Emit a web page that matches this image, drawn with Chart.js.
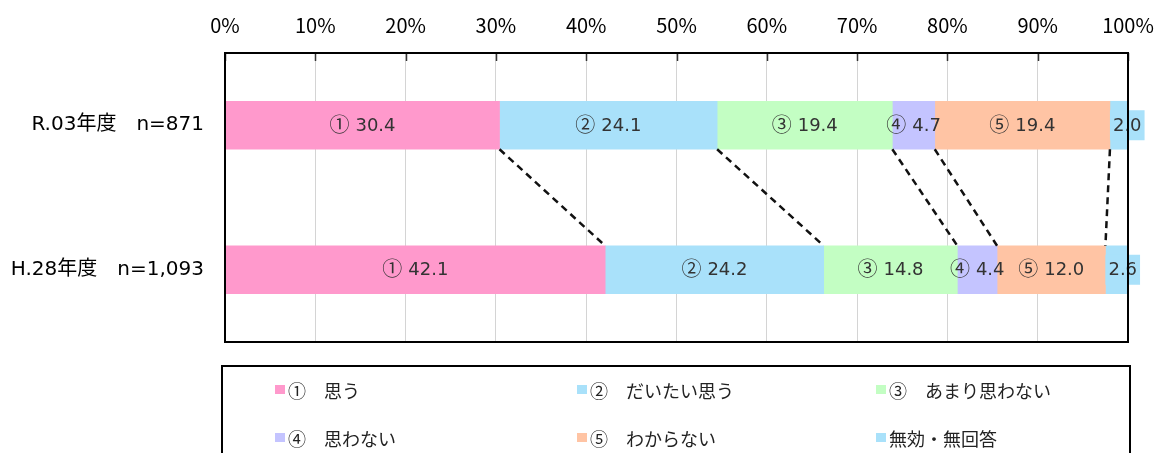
<!DOCTYPE html>
<html lang="ja">
  <head>
    <meta charset="UTF-8" />
    <title>意識調査 比較</title>
    <script src="https://cdn.jsdelivr.net/npm/chart.js@4.4.0/dist/chart.umd.min.js"></script>
    <style>
      body { margin: 0; background: #fff; }
    </style>
  </head>
  <body>
    <canvas id="chart" width="1155" height="453"></canvas>
    <script>
      // rows (top to bottom)
      const categories = ['R.03年度　n=871', 'H.28年度　n=1,093']
      // answer series, values in %
      const seriesNames = ['①　思う', '②　だいたい思う', '③　あまり思わない', '④　思わない', '⑤　わからない', '無効・無回答']
      const seriesMarks = ['①', '②', '③', '④', '⑤', '']
      const omou = [30.4, 42.1]
      const daitai = [24.1, 24.2]
      const amari = [19.4, 14.8]
      const omowanai = [4.7, 4.4]
      const wakaranai = [19.4, 12.0]
      const muko = [2.0, 2.6]
      const colors = ['#ff99cc', '#a9e1fa', '#c3fec3', '#c4c4ff', '#ffc4a4', '#a9e1fa']

      const CJK = '"Noto Sans CJK JP", "Noto Sans", sans-serif'
      const MIX = '"DejaVu Sans", "Noto Sans CJK JP", sans-serif'
      const allSeries = [omou, daitai, amari, omowanai, wakaranai, muko]

      const datasets = allSeries.map((vals, i) => ({
        label: seriesNames[i],
        data: vals,
        backgroundColor: colors[i],
        borderWidth: 0,
        barThickness: 48,
      }))

      // value labels inside segments, the last one in a little box
      const valueLabels = {
        id: 'valueLabels',
        afterDatasetsDraw(chart) {
          const ctx = chart.ctx
          const markFont = '20px ' + CJK
          const numFont = '18px ' + MIX
          ctx.save()
          ctx.textBaseline = 'middle'
          ctx.textAlign = 'left'
          chart.data.datasets.forEach((ds, di) => {
            const meta = chart.getDatasetMeta(di)
            meta.data.forEach((bar, j) => {
              const v = ds.data[j].toFixed(1)
              const last = di === chart.data.datasets.length - 1
              ctx.font = numFont
              const nw = ctx.measureText(v).width
              if (last) {
                const w = nw + 6
                ctx.fillStyle = colors[di]
                ctx.fillRect(bar.base, bar.y - 15, w, 30)
                ctx.fillStyle = '#333'
                ctx.fillText(v, bar.base + 3, bar.y + 1)
              } else {
                ctx.font = markFont
                const mw = ctx.measureText(seriesMarks[di]).width
                const gap = 6
                const start = (bar.x + bar.base) / 2 - (mw + gap + nw) / 2
                ctx.fillStyle = '#333'
                ctx.fillText(seriesMarks[di], start, bar.y - 1)
                ctx.font = numFont
                ctx.fillText(v, start + mw + gap, bar.y + 1)
              }
            })
          })
          ctx.restore()
        },
      }

      // dashed connectors between the two bars, frame, tick marks, legend box
      const extras = {
        id: 'extras',
        beforeDatasetsDraw(chart) {
          const ctx = chart.ctx
          const a = chart.chartArea
          const x = chart.scales.x
          ctx.save()
          ctx.strokeStyle = '#333'
          ctx.lineWidth = 1.5
          x.ticks.forEach((t) => {
            const px = Math.round(x.getPixelForValue(t.value)) + 0.5
            ctx.beginPath()
            ctx.moveTo(px, a.top)
            ctx.lineTo(px, a.top + 8)
            ctx.stroke()
          })
          ctx.restore()
        },
        afterDraw(chart) {
          const ctx = chart.ctx
          const a = chart.chartArea
          ctx.save()
          // connectors
          ctx.strokeStyle = '#111'
          ctx.lineWidth = 2.5
          ctx.setLineDash([7, 5])
          for (let di = 0; di < chart.data.datasets.length - 1; di++) {
            const bars = chart.getDatasetMeta(di).data
            const top = bars[0]
            const bot = bars[1]
            ctx.beginPath()
            ctx.moveTo(top.x, top.y + top.height / 2)
            ctx.lineTo(bot.x, bot.y - bot.height / 2)
            ctx.stroke()
          }
          ctx.setLineDash([])
          // plot frame
          ctx.strokeStyle = '#000'
          ctx.lineWidth = 2
          ctx.strokeRect(a.left, a.top, a.right - a.left, a.bottom - a.top)
          // legend
          const lx = a.left - 3
          const ly = a.bottom + 24
          ctx.strokeRect(lx, ly, a.right - a.left + 5, 120)
          const colX = [lx + 53, lx + 355, lx + 654]
          const rowY = [ly + 24, ly + 72]
          ctx.font = '18px ' + CJK
          ctx.textBaseline = 'middle'
          ctx.textAlign = 'left'
          chart.data.datasets.forEach((ds, i) => {
            const cx = colX[i % 3]
            const cy = rowY[Math.floor(i / 3)]
            ctx.fillStyle = colors[i]
            ctx.fillRect(cx, cy - 5, 10, 9)
            ctx.fillStyle = '#222'
            ctx.fillText(ds.label, cx + 13, cy + 1)
          })
          ctx.restore()
        },
      }

      const config = {
        type: 'bar',
        data: { labels: categories, datasets: datasets },
        options: {
          indexAxis: 'y',
          responsive: false,
          animation: false,
          layout: { padding: { left: 0, top: 0, right: 27, bottom: 111 } },
          plugins: {
            legend: { display: false },
            tooltip: { enabled: false },
          },
          scales: {
            x: {
              position: 'top',
              stacked: true,
              min: 0,
              max: 100,
              ticks: {
                stepSize: 10,
                callback: (v) => v + '%',
                color: '#000',
                font: { family: CJK, size: 20 },
                padding: 16,
                maxRotation: 0,
              },
              grid: { color: '#d4d4d4', drawTicks: false, lineWidth: 1 },
              border: { display: false },
              afterFit: (s) => {
                s.height = 53
                s.paddingLeft = 0
                s.paddingRight = 0
              },
            },
            y: {
              stacked: true,
              ticks: {
                color: '#000',
                font: { family: MIX, size: 20 },
                padding: 21,
              },
              grid: { display: false, drawTicks: false },
              border: { display: false },
              afterFit: (s) => { s.width = 225 },
            },
          },
        },
        plugins: [extras, valueLabels],
      }

      var myChart = new Chart(document.getElementById('chart'), config)
    </script>
  </body>
</html>
